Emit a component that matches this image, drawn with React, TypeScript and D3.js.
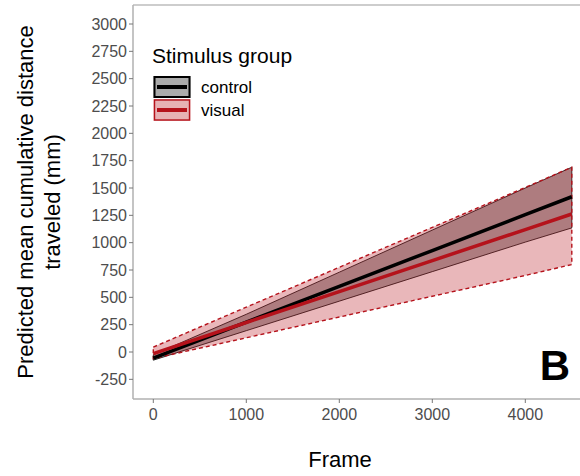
import React from "react";
import * as d3 from "d3";

const frames = [0, 1000, 2000, 3000, 4000, 4500];
const controlMean = [-55, 273, 600, 928, 1256, 1420];
const controlLower = [-75, 195, 465, 735, 1005, 1135];
const controlUpper = [-25, 345, 730, 1115, 1500, 1690];
const visualMean = [-15, 270, 553, 836, 1120, 1262];
const visualLower = [-60, 130, 320, 510, 700, 800];
const visualUpper = [45, 410, 775, 1140, 1505, 1690];
const yTicks = [-250, 0, 250, 500, 750, 1000, 1250, 1500, 1750, 2000, 2250, 2500, 2750, 3000];
const xTicks = [0, 1000, 2000, 3000, 4000];
const groups = ["control", "visual"];

const FONT = "'Liberation Sans', Arial, Helvetica, sans-serif";
const RED = "#b5121b";

export default function App() {
  const W = 580, H = 476;
  const panel = { left: 133, top: 5, right: 580, bottom: 399 };
  const x = d3.scaleLinear().domain([0, 4000]).range([153.3, 525.3]);
  const y = d3.scaleLinear().domain([0, 3000]).range([352, 24]);

  const pts = (lo: number[], hi: number[]) => frames.map((f, i) => ({ f, lo: lo[i], hi: hi[i] }));
  const area = d3.area<any>().x((d) => x(d.f)).y0((d) => y(d.lo)).y1((d) => y(d.hi));
  const line = d3.line<any>().x((d) => x(d.f)).y((d) => y(d.v));
  const outline = (lo: number[], hi: number[]) => {
    const p = frames.map((f, i) => [x(f), y(hi[i])] as [number, number]);
    const q = frames.map((f, i) => [x(f), y(lo[i])] as [number, number]).reverse();
    return d3.line()([...p, ...q]) + "Z";
  };
  const cPts = pts(controlLower, controlUpper);
  const vPts = pts(visualLower, visualUpper);

  return (
    <svg width={W} height={H} style={{ position: "absolute", left: 0, top: 0, background: "#fff" }} fontFamily={FONT}>
      <rect x={0} y={0} width={W} height={H} fill="#fff" />
      <defs>
        <clipPath id="pc">
          <rect x={panel.left} y={panel.top} width={panel.right - panel.left} height={panel.bottom - panel.top} />
        </clipPath>
      </defs>
      <g clipPath="url(#pc)">
        <path d={area(cPts) as string} fill="#000" fillOpacity={0.33} />
        <path d={outline(controlLower, controlUpper)} fill="none" stroke="#000" strokeWidth={0.8} />
        <path d={area(vPts) as string} fill={RED} fillOpacity={0.3} />
        <path d={outline(visualLower, visualUpper)} fill="none" stroke={RED} strokeWidth={1.4} strokeDasharray="4,3" />
        <path d={line(frames.map((f, i) => ({ f, v: controlMean[i] }))) as string} fill="none" stroke="#000" strokeWidth={3.5} />
        <path d={line(frames.map((f, i) => ({ f, v: visualMean[i] }))) as string} fill="none" stroke={RED} strokeWidth={3.5} />
      </g>
      {/* panel border */}
      <line x1={panel.left} x2={panel.right} y1={panel.top} y2={panel.top} stroke="#bdbdbd" strokeWidth={1.5} />
      <line x1={panel.left} x2={panel.left} y1={panel.top} y2={panel.bottom} stroke="#b0b0b0" strokeWidth={1.5} />
      <line x1={panel.left} x2={panel.right} y1={panel.bottom} y2={panel.bottom} stroke="#b0b0b0" strokeWidth={1.5} />
      {/* y axis */}
      {yTicks.map((t) => (
        <g key={t}>
          <line x1={panel.left - 4} x2={panel.left} y1={y(t)} y2={y(t)} stroke="#777" strokeWidth={1} />
          <text x={panel.left - 6} y={y(t)} dy="0.36em" textAnchor="end" fontSize={16} fill="#4d4d4d">{t}</text>
        </g>
      ))}
      {/* x axis */}
      {xTicks.map((t) => (
        <g key={t}>
          <line x1={x(t)} x2={x(t)} y1={panel.bottom} y2={panel.bottom + 4} stroke="#777" strokeWidth={1} />
          <text x={x(t)} y={420} textAnchor="middle" fontSize={16} fill="#4d4d4d">{t}</text>
        </g>
      ))}
      <text x={340} y={467} textAnchor="middle" fontSize={22} fill="#000">Frame</text>
      <text transform="translate(0,202) rotate(-90)" textAnchor="middle" fontSize={22} fill="#000">
        <tspan x={0} y={33}>Predicted mean cumulative distance</tspan>
        <tspan x={0} y={60}>traveled (mm)</tspan>
      </text>
      {/* legend */}
      <text x={152} y={63} fontSize={21} fill="#000">Stimulus group</text>
      {groups.map((g, i) => {
        const ky = 76 + i * 23;
        const isC = g === "control";
        return (
          <g key={g}>
            <rect x={153.5} y={ky} width={37} height={22} fill={isC ? "#000" : RED} fillOpacity={0.33} />
            <rect x={154.5} y={ky + 1} width={35} height={20} fill="none" stroke={isC ? "#000" : RED} strokeWidth={isC ? 2 : 1.4} />
            <line x1={157} x2={187} y1={ky + 11} y2={ky + 11} stroke={isC ? "#000" : RED} strokeWidth={4} />
            <text x={201} y={ky + 11} dy="0.36em" fontSize={17} fill="#000">{g}</text>
          </g>
        );
      })}
      <text x={555} y={380} textAnchor="middle" fontSize={42} fontWeight="bold" fill="#000">B</text>
    </svg>
  );
}
